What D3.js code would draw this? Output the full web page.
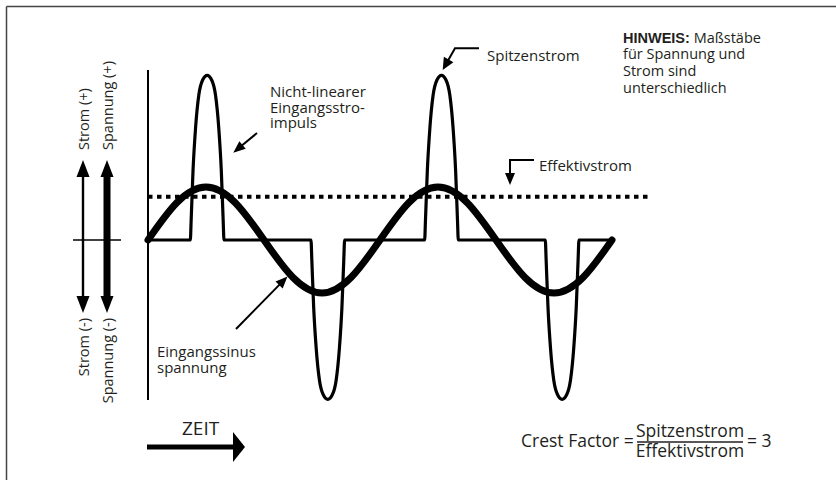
<!DOCTYPE html>
<html><head><meta charset="utf-8">
<script src="https://cdn.jsdelivr.net/npm/d3@7"></script>
<style>
html,body{margin:0;padding:0;background:#fff;}
svg{display:block;}
text{font-family:"Open Sans",sans-serif;fill:#231f20;}
</style></head><body>
<svg id="chart" width="836" height="480"></svg>
<script>
// ---- data (time in ms, two periods of the mains voltage) ----
const voltageTime  = [0,2.5,5,7.5,10,12.5,15,17.5,20,22.5,25,27.5,30,32.5,35,37.5,40];
const voltageValue = [0,230,325,230,0,-230,-325,-230,0,230,325,230,0,-230,-325,-230,0];

const pulseCenter = [5.1, 15.5, 25.3, 35.7];     // ms
const pulsePeak   = [3.05, -2.95, 3.05, -2.95];  // current units
const pulseOffset = [-1.45,-1.38,-1.22,-1.0,-0.72,-0.4,0,0.4,0.72,1.0,1.22,1.38,1.45];
const pulseShape  = [0,0.12,0.42,0.68,0.88,0.97,1,0.97,0.88,0.68,0.42,0.12,0];
const timeEnd = 40.1;
const rmsCurrent = 0.8;
const rmsEnd = 43.4;

const axisLabels = {pos:["Strom (+)","Spannung (+)"], neg:["Strom (-)","Spannung (-)"]};
const noteLines = ["Nicht-linearer","Eingangsstro-","impuls"];
const sineLines = ["Eingangssinus","spannung"];
const hintLines = ["für Spannung und","Strom sind","unterschiedlich"];

// ---- scales ----
const svg = d3.select("#chart");
const x = d3.scaleLinear().domain([0,40]).range([148,612]);
const yV = d3.scaleLinear().domain([-325,325]).range([293,187]);
const yI = d3.scaleLinear().domain([-3,3]).range([402,78]);

// frame (top & left edges)
svg.append("line").attr("x1",6.5).attr("y1",6.5).attr("x2",836).attr("y2",6.5).attr("stroke","#444").attr("stroke-width",1.5);
svg.append("line").attr("x1",6.5).attr("y1",6.5).attr("x2",6.5).attr("y2",480).attr("stroke","#444").attr("stroke-width",1.5);

// vertical axis
svg.append("line").attr("x1",x(0)).attr("x2",x(0)).attr("y1",70).attr("y2",400).attr("stroke","#000").attr("stroke-width",2);

function head(tip, from, len, wid){
  const dx = tip[0]-from[0], dy = tip[1]-from[1];
  const d = Math.hypot(dx,dy), ux = dx/d, uy = dy/d;
  const bx = tip[0]-ux*len, by = tip[1]-uy*len;
  const px = -uy*wid/2, py = ux*wid/2;
  return [[tip[0],tip[1]],[bx+px,by+py],[bx-px,by-py]];
}
function arrow(points, len, wid, sw){
  svg.append("path").attr("d", d3.line()(points.slice(0,-1).concat([ (()=>{
      const t = points[points.length-1], f = points[points.length-2];
      const dx=t[0]-f[0], dy=t[1]-f[1], d=Math.hypot(dx,dy);
      return [t[0]-dx/d*(len-2), t[1]-dy/d*(len-2)];
    })() ])))
    .attr("fill","none").attr("stroke","#000").attr("stroke-width",sw);
  svg.append("polygon").attr("points", head(points[points.length-1], points[points.length-2], len, wid).join(" ")).attr("fill","#000");
}

// left double arrows
const zeroY = yI(0);
svg.append("line").attr("x1",73).attr("x2",121).attr("y1",zeroY).attr("y2",zeroY).attr("stroke","#000").attr("stroke-width",1.5);
[[83,2.4],[107,7]].forEach(([ax,sw])=>{
  svg.append("line").attr("x1",ax).attr("x2",ax).attr("y1",170).attr("y2",303).attr("stroke","#000").attr("stroke-width",sw);
  svg.append("polygon").attr("points",head([ax,160],[ax,200],17,13).join(" ")).attr("fill","#000");
  svg.append("polygon").attr("points",head([ax,313],[ax,280],17,13).join(" ")).attr("fill","#000");
});
[[89,0],[113,1]].forEach(([bx,i])=>{
  svg.append("text").attr("transform",`translate(${bx},150) rotate(-90)`).attr("font-size",14.5).text(axisLabels.pos[i]);
  svg.append("text").attr("transform",`translate(${bx},318) rotate(-90)`).attr("font-size",14.5).attr("text-anchor","end").text(axisLabels.neg[i]);
});

// RMS dotted line
svg.append("line").attr("x1",x(0)).attr("x2",x(rmsEnd)).attr("y1",yI(rmsCurrent)).attr("y2",yI(rmsCurrent))
  .attr("stroke","#000").attr("stroke-width",4).attr("stroke-dasharray","4.5,4.5");

// current waveform
const curPts = [[0,0]];
pulseCenter.forEach((c,i)=>{
  pulseOffset.forEach((o,j)=> curPts.push([c+o, pulsePeak[i]*pulseShape[j]]));
});
curPts.push([timeEnd,0]);
svg.append("path").datum(curPts)
  .attr("d", d3.line().x(d=>x(d[0])).y(d=>yI(d[1])).curve(d3.curveMonotoneX))
  .attr("fill","none").attr("stroke","#000").attr("stroke-width",3.2).attr("stroke-linejoin","miter");

// voltage sine
svg.append("path").datum(voltageTime.map((t,i)=>[t,voltageValue[i]]))
  .attr("d", d3.line().x(d=>x(d[0])).y(d=>yV(d[1])).curve(d3.curveNatural))
  .attr("fill","none").attr("stroke","#000").attr("stroke-width",7).attr("stroke-linecap","round");

// annotations
const fs = 15;
const t1 = svg.append("text").attr("font-size",fs);
noteLines.forEach((s,i)=> t1.append("tspan").attr("x",270).attr("y",97+i*15.5).text(s));
arrow([[257,133],[233.3,152.7]],12,10,2);

svg.append("text").attr("x",487).attr("y",60.5).attr("font-size",fs).text("Spitzenstrom");
arrow([[479,48.3],[455,48.3],[442.7,70]],12,11,2);

svg.append("text").attr("x",539).attr("y",170.5).attr("font-size",fs).text("Effektivstrom");
arrow([[534,160],[510,160],[510,185]],12,10,2);

const t2 = svg.append("text").attr("font-size",fs);
sineLines.forEach((s,i)=> t2.append("tspan").attr("x",157).attr("y",357+i*16).text(s));
arrow([[236,329],[287.5,276.5]],12,10,2);

const t3 = svg.append("text").attr("font-size",14.5);
t3.append("tspan").attr("x",623).attr("y",42.5).attr("font-family","'Liberation Sans',Arial,sans-serif").attr("font-weight","bold").text("HINWEIS:");
t3.append("tspan").text(" Maßstäbe");
hintLines.forEach((s,i)=> t3.append("tspan").attr("x",623).attr("y",59.3+i*16.7).text(s));

// ZEIT arrow
svg.append("text").attr("x",182).attr("y",435).attr("font-size",19).text("ZEIT");
arrow([[147,447],[245,447]],12,30,5);

// crest factor formula
svg.append("text").attr("x",521).attr("y",447).attr("font-size",17.5).text("Crest Factor =");
svg.append("text").attr("x",690).attr("y",437).attr("font-size",17.5).attr("text-anchor","middle").text("Spitzenstrom");
svg.append("line").attr("x1",637).attr("x2",743).attr("y1",442).attr("y2",442).attr("stroke","#231f20").attr("stroke-width",1.5);
svg.append("text").attr("x",690).attr("y",457).attr("font-size",17.5).attr("text-anchor","middle").text("Effektivstrom");
svg.append("text").attr("x",747).attr("y",447).attr("font-size",17.5).text("= 3");
</script>
</body></html>
